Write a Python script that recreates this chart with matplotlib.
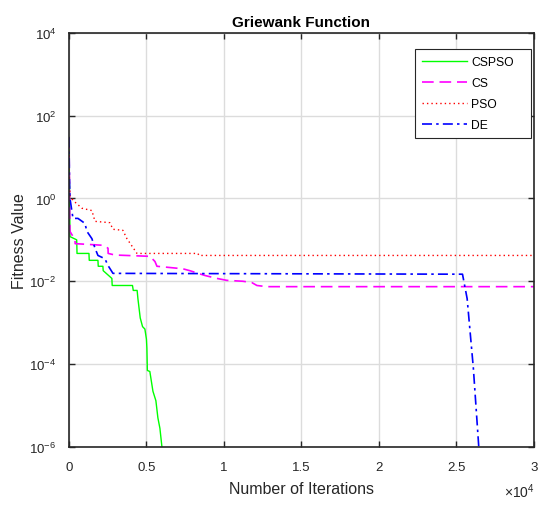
import matplotlib
matplotlib.use("Agg")
import matplotlib.pyplot as plt
from matplotlib.ticker import FuncFormatter, NullLocator

plt.rcParams['font.family'] = ['Liberation Sans', 'DejaVu Sans']
plt.rcParams['mathtext.fontset'] = 'custom'
plt.rcParams['mathtext.rm'] = 'Liberation Sans'
plt.rcParams['mathtext.it'] = 'Liberation Sans:italic'
plt.rcParams['axes.unicode_minus'] = False

# iteration / fitness values
cspso_x = [0, 65, 500, 520, 1290, 1310, 1870, 1890, 2190, 2210, 2770, 2790, 4100, 4150,
           4400, 4450, 4600, 4750, 4900, 5000, 5030, 5060, 5220, 5420, 5610, 5740, 5870, 6000, 6150]
cspso_y = [30, 0.12, 0.1, 0.047, 0.047, 0.032, 0.032, 0.023, 0.023, 0.018, 0.0117, 0.0079, 0.0079, 0.006,
           0.006, 0.0038, 0.0013, 8e-4, 7e-4, 4e-4, 2.4e-4, 7e-5, 6.6e-5, 2.2e-5, 1.3e-5, 5e-6, 2.8e-6, 1e-6, 3e-7]

cs_x = [0, 65, 390, 400, 2190, 2520, 2530, 2970, 5230, 5550, 5680, 7350, 7800, 8770, 9550,
        10190, 11220, 11800, 12130, 12770, 30000]
cs_y = [30, 0.16, 0.1, 0.081, 0.074, 0.063, 0.047, 0.043, 0.04, 0.03, 0.023, 0.020, 0.018, 0.0138, 0.0117,
        0.0105, 0.01, 0.0093, 0.0079, 0.0074, 0.0074]

pso_x = [0, 30, 65, 260, 840, 1480, 1680, 2640, 2840, 3480, 3740, 4390, 8320, 8390, 30000]
pso_y = [30, 2.0, 1.17, 0.9, 0.58, 0.51, 0.28, 0.26, 0.18, 0.17, 0.107, 0.047, 0.047, 0.042, 0.042]

de_x = [0, 30, 65, 190, 260, 580, 1030, 1160, 1480, 1680, 1870, 2320, 2520, 2840, 25400,
        25700, 26100, 26450, 26700]
de_y = [30, 3.0, 1.0, 0.49, 0.33, 0.33, 0.25, 0.16, 0.107, 0.063, 0.042, 0.035, 0.024, 0.0155, 0.0148,
        0.0038, 8e-5, 1e-6, 1e-7]

fig = plt.figure(figsize=(5.43, 5.06), dpi=100)
ax = fig.add_axes([0.127, 0.115, 0.856, 0.818])

ax.plot(cspso_x, cspso_y, color='#00ff00', lw=1.0, label='CSPSO')
ax.plot(cs_x, cs_y, color='#ff00ff', lw=1.2, ls=(0, (7, 3.5)), label='CS')
ax.plot(pso_x, pso_y, color='#ff0000', lw=1.0, ls=(0, (1, 2.2)), label='PSO')
ax.plot(de_x, de_y, color='#0000ff', lw=1.2, ls=(0, (6, 2.5, 1.5, 2.5)), label='DE')

ax.set_yscale('log')
ax.set_xlim(0, 30000)
ax.set_ylim(1e-6, 1e4)
ax.set_xticks([0, 5000, 10000, 15000, 20000, 25000, 30000])
ax.xaxis.set_major_formatter(FuncFormatter(lambda v, p: '%g' % (v / 1e4)))
ax.set_yticks([1e-6, 1e-4, 1e-2, 1e0, 1e2, 1e4])
ax.yaxis.set_minor_locator(NullLocator())

ax.grid(True, color='#dcdcdc', lw=1.0)
ax.set_axisbelow(True)
ax.tick_params(direction='in', top=True, right=True, length=4, width=1, labelsize=9.5,
               colors='#262626', labelcolor='#262626')
ax.tick_params(axis='x', pad=10)
ax.tick_params(axis='y', pad=9)
for s in ax.spines.values():
    s.set_linewidth(1.2)
    s.set_color('#262626')

ax.set_title('Griewank Function', fontsize=11, fontweight='bold', pad=5)
ax.set_xlabel('Number of Iterations', fontsize=11.5, color='#262626')
ax.set_ylabel('Fitness Value', fontsize=11.5, color='#262626')
ax.xaxis.set_label_coords(0.5, -0.083)
ax.yaxis.set_label_coords(-0.09, 0.5)
ax.text(1.003, -0.083, r'$\times10^4$', transform=ax.transAxes, ha='right', va='top',
        fontsize=10, color='#262626')

leg = ax.legend(loc='upper left', bbox_to_anchor=(0.744, 0.751, 0.2495, 0.210), mode='expand',
                borderaxespad=0, fontsize=8.7, frameon=True, fancybox=False, framealpha=1,
                edgecolor='#262626', handlelength=3.7, borderpad=0.6, labelspacing=0.74,
                handletextpad=0.35)
leg.get_frame().set_linewidth(0.8)

fig.savefig('out.png', dpi=100)
